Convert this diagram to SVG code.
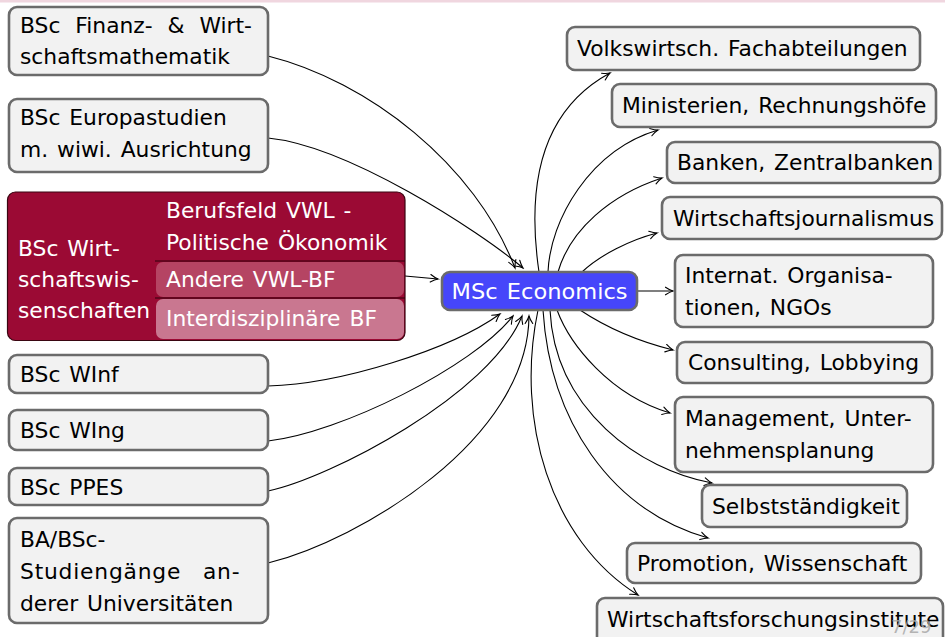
<svg xmlns="http://www.w3.org/2000/svg" width="945" height="637" viewBox="0 0 945 637">
<style>
.box{fill:#f2f2f2;stroke:#6b6b6b;stroke-width:2.6}
.t{font-family:"DejaVu Sans","Liberation Sans",sans-serif;font-size:21.8px;fill:#000;word-spacing:2px}
.w{fill:#fff}
.c{fill:none;stroke:#000;stroke-width:1.1;marker-end:url(#ah)}
.div{stroke:#2a0008;stroke-width:1}
</style>
<defs>
<marker id="ah" markerUnits="userSpaceOnUse" markerWidth="12" markerHeight="12" viewBox="-9 -6 10 12" refX="0" refY="0" orient="auto">
<path d="M-7.5,-3.8 Q-3,-0.8 0,0 Q-3,0.8 -7.5,3.8" fill="none" stroke="#000" stroke-width="1.1" stroke-linecap="round"/>
</marker>
</defs>
<rect x="0" y="0" width="945" height="2.5" fill="#f0d6df"/>
<g id="connectors">
<path class="c" d="M268,56 C368,81 475,164 515,268"/>
<path class="c" d="M268,138 C348,146 478,230 523,268"/>
<path class="c" d="M405,276 L438,279"/>
<path class="c" d="M268,386 C340,384 450,350 500,314"/>
<path class="c" d="M268,441 C340,433 473,367 513,316"/>
<path class="c" d="M268,491 C330,478 490,395 522,316"/>
<path class="c" d="M268,563 C360,540 528,440 529,316"/>
<path class="c" d="M539,272 C527,190 538,112 610,73"/>
<path class="c" d="M548,272 C550,220 590,150 658,130"/>
<path class="c" d="M558,272 C570,230 610,195 662,178"/>
<path class="c" d="M582,272 C600,255 630,240 657,233"/>
<path class="c" d="M637,291 L673,291"/>
<path class="c" d="M580,310 C610,330 645,343 673,350"/>
<path class="c" d="M557,310 C570,345 610,395 670,413"/>
<path class="c" d="M550,310 C555,410 640,470 712,483"/>
<path class="c" d="M543,310 C550,420 610,510 708,538"/>
<path class="c" d="M538,310 C515,420 550,540 638,595"/>
</g>
<g id="bsc-finanz">
<rect class="box" x="9" y="7" width="259" height="68" rx="8"/>
<text class="t" x="20" y="33" style="word-spacing:8px">BSc Finanz- &amp; Wirt-</text>
<text class="t" x="20" y="64">schaftsmathematik</text>
</g>
<g id="bsc-europa">
<rect class="box" x="9" y="99" width="259" height="73" rx="8"/>
<text class="t" x="20" y="125">BSc Europastudien</text>
<text class="t" x="20" y="157">m. wiwi. Ausrichtung</text>
</g>
<g id="bsc-wiwi">
<rect x="7.5" y="192" width="397.5" height="148.5" rx="8" fill="#9b0a34" stroke="#3a0612" stroke-width="1.2"/>
<rect x="156" y="262" width="248" height="35" rx="7" fill="#b54463"/>
<rect x="156" y="299" width="248" height="40" rx="7" fill="#c97790"/>
<line class="div" x1="155" y1="261" x2="405" y2="261"/>
<line class="div" x1="155" y1="298" x2="405" y2="298"/>
<text class="t w" x="18" y="256">BSc Wirt-</text>
<text class="t w" x="18" y="287">schaftswis-</text>
<text class="t w" x="18" y="318">senschaften</text>
<text class="t w" x="166" y="218">Berufsfeld VWL -</text>
<text class="t w" x="166" y="250">Politische Ökonomik</text>
<text class="t w" x="166" y="287">Andere VWL-BF</text>
<text class="t w" x="166" y="326">Interdisziplinäre BF</text>
</g>
<g id="bsc-winf">
<rect class="box" x="9" y="355" width="259" height="38" rx="8"/>
<text class="t" x="20" y="382">BSc WInf</text>
</g>
<g id="bsc-wing">
<rect class="box" x="9" y="410" width="259" height="40" rx="8"/>
<text class="t" x="20" y="438">BSc WIng</text>
</g>
<g id="bsc-ppes">
<rect class="box" x="9" y="468" width="259" height="37" rx="8"/>
<text class="t" x="20" y="495">BSc PPES</text>
</g>
<g id="ba-bsc-andere">
<rect class="box" x="9" y="518" width="259" height="105" rx="8"/>
<text class="t" x="20" y="547">BA/BSc-</text>
<text class="t" x="20" y="579" style="word-spacing:14px;letter-spacing:0.8px">Studiengänge an-</text>
<text class="t" x="20" y="611">derer Universitäten</text>
</g>
<g id="msc-economics">
<rect x="442" y="272" width="195" height="38" rx="8" fill="#4646fa" stroke="#6b6b6b" stroke-width="2.6"/>
<text class="t w" x="539.5" y="299" text-anchor="middle" textLength="176" lengthAdjust="spacingAndGlyphs">MSc Economics</text>
</g>
<g id="volkswirtsch">
<rect class="box" x="567" y="27" width="353" height="43" rx="8"/>
<text class="t" x="577" y="56">Volkswirtsch. Fachabteilungen</text>
</g>
<g id="ministerien">
<rect class="box" x="612" y="84" width="324" height="43" rx="8"/>
<text class="t" x="622" y="113">Ministerien, Rechnungshöfe</text>
</g>
<g id="banken">
<rect class="box" x="667" y="142" width="273" height="41" rx="8"/>
<text class="t" x="677" y="170">Banken, Zentralbanken</text>
</g>
<g id="journalismus">
<rect class="box" x="662" y="197" width="280" height="42" rx="8"/>
<text class="t" x="673" y="226">Wirtschaftsjournalismus</text>
</g>
<g id="internat">
<rect class="box" x="675" y="255" width="258" height="72" rx="8"/>
<text class="t" x="685" y="283">Internat. Organisa-</text>
<text class="t" x="685" y="315">tionen, NGOs</text>
</g>
<g id="consulting">
<rect class="box" x="677" y="342" width="255" height="41" rx="8"/>
<text class="t" x="688" y="370">Consulting, Lobbying</text>
</g>
<g id="management">
<rect class="box" x="675" y="397" width="258" height="75" rx="8"/>
<text class="t" x="685" y="426">Management, Unter-</text>
<text class="t" x="685" y="458">nehmensplanung</text>
</g>
<g id="selbststaendigkeit">
<rect class="box" x="702" y="485" width="205" height="42" rx="8"/>
<text class="t" x="712" y="514">Selbstständigkeit</text>
</g>
<g id="promotion">
<rect class="box" x="627" y="543" width="294" height="40" rx="8"/>
<text class="t" x="637" y="571">Promotion, Wissenschaft</text>
</g>
<g id="wifo">
<rect class="box" x="597" y="598" width="346" height="52" rx="8"/>
<text class="t" x="607" y="627">Wirtschaftsforschungsinstitute</text>
</g>
<text x="891" y="633" font-family="DejaVu Sans,sans-serif" font-size="18" fill="#a8a8a8" fill-opacity="0.85">7/29</text>
</svg>
